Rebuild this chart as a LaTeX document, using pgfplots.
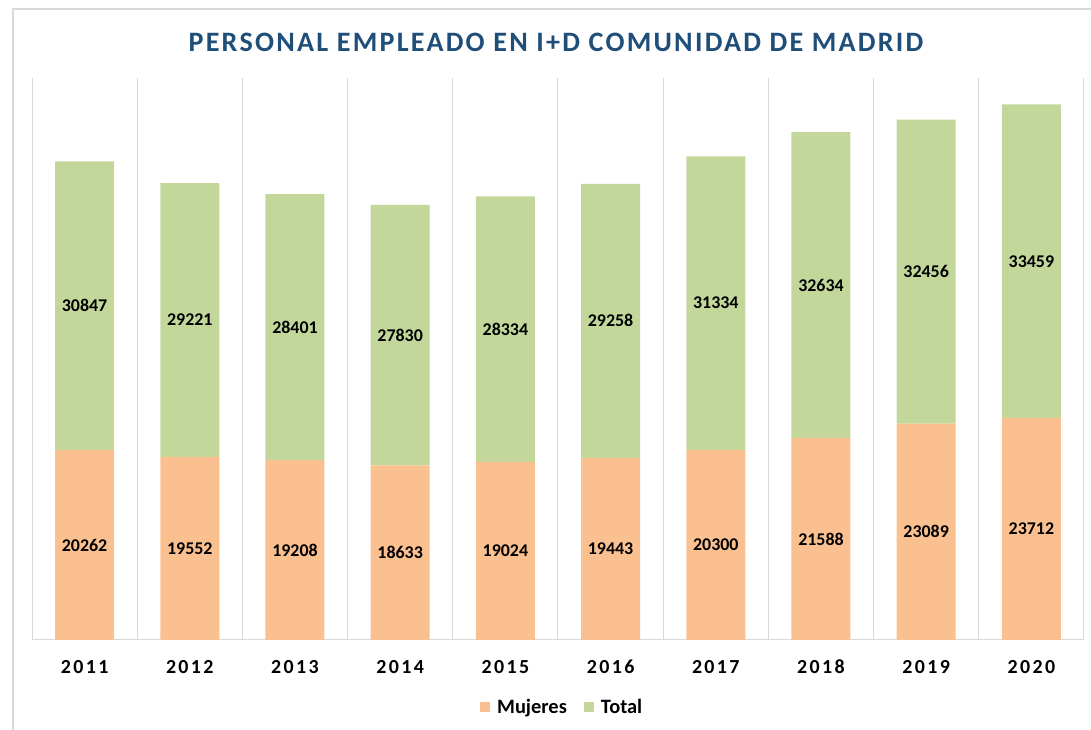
\documentclass[border=0pt]{standalone}
\usepackage{pgfplots}
\pgfplotsset{compat=1.18}
\usepackage{fontspec}
\setmainfont{Carlito}
\newfontfamily\titlefont[LetterSpace=8]{Carlito}
\newfontfamily\tickfont[LetterSpace=12]{Carlito}
\definecolor{cmuj}{HTML}{FAC090}
\definecolor{ctot}{HTML}{C4D79B}
\definecolor{ctitle}{HTML}{1F4E79}
\definecolor{cgrid}{HTML}{D9D9D9}
\begin{document}
\begin{tikzpicture}[x=1bp,y=1bp]
\useasboundingbox (0,0) rectangle (1091,730);
\draw[cgrid, line width=1.5bp] (13,721) rectangle (1200,-50);
\node[font=\titlefont\bfseries\fontsize{28.2}{31}\selectfont, text=ctitle] at (556,688) {PERSONAL EMPLEADO EN I+D COMUNIDAD DE MADRID};
\begin{axis}[
  at={(32bp,90bp)}, anchor=south west, scale only axis,
  width=1052bp, height=562bp,
  ybar stacked, bar width=59bp,
  xmin=-0.5, xmax=9.5, ymin=0, ymax=60,
  axis y line=none, axis x line*=bottom,
  x axis line style={cgrid, line width=1bp, -},
  xtick={0,...,9},
  xticklabels={2011,2012,2013,2014,2015,2016,2017,2018,2019,2020},
  major tick length=0pt, minor tick length=0pt,
  minor xtick={-0.5,0.5,...,9.5}, xminorgrids,
  minor grid style={cgrid, line width=1bp},
  xticklabel style={font=\tickfont\bfseries\fontsize{20}{24}\selectfont, text height=14bp, text depth=0pt, yshift=-16bp},
  point meta=explicit symbolic,
  nodes near coords={\pgfplotspointmeta},
  every node near coord/.append style={font=\bfseries\fontsize{18}{20}\selectfont, text=black, anchor=center},
  legend style={at={(0.504,-0.119)}, anchor=center, draw=none, legend columns=2,
    font=\bfseries\fontsize{20.5}{22}\selectfont,
    /tikz/every even column/.append style={column sep=15bp}},
  legend image code/.code={\fill[#1] (0bp,-5bp) rectangle (10bp,5bp); \path (0bp,0bp) -- (15bp,0bp);},
]
\addplot[fill=cmuj, draw=none] coordinates {
(0,20.262) [20262] (1,19.552) [19552] (2,19.208) [19208] (3,18.633) [18633] (4,19.024) [19024]
(5,19.443) [19443] (6,20.300) [20300] (7,21.588) [21588] (8,23.089) [23089] (9,23.712) [23712]};
\addlegendentry{Mujeres}
\addplot[fill=ctot, draw=none] coordinates {
(0,30.847) [30847] (1,29.221) [29221] (2,28.401) [28401] (3,27.830) [27830] (4,28.334) [28334]
(5,29.258) [29258] (6,31.334) [31334] (7,32.634) [32634] (8,32.456) [32456] (9,33.459) [33459]};
\addlegendentry{Total}
\end{axis}
\end{tikzpicture}
\end{document}
